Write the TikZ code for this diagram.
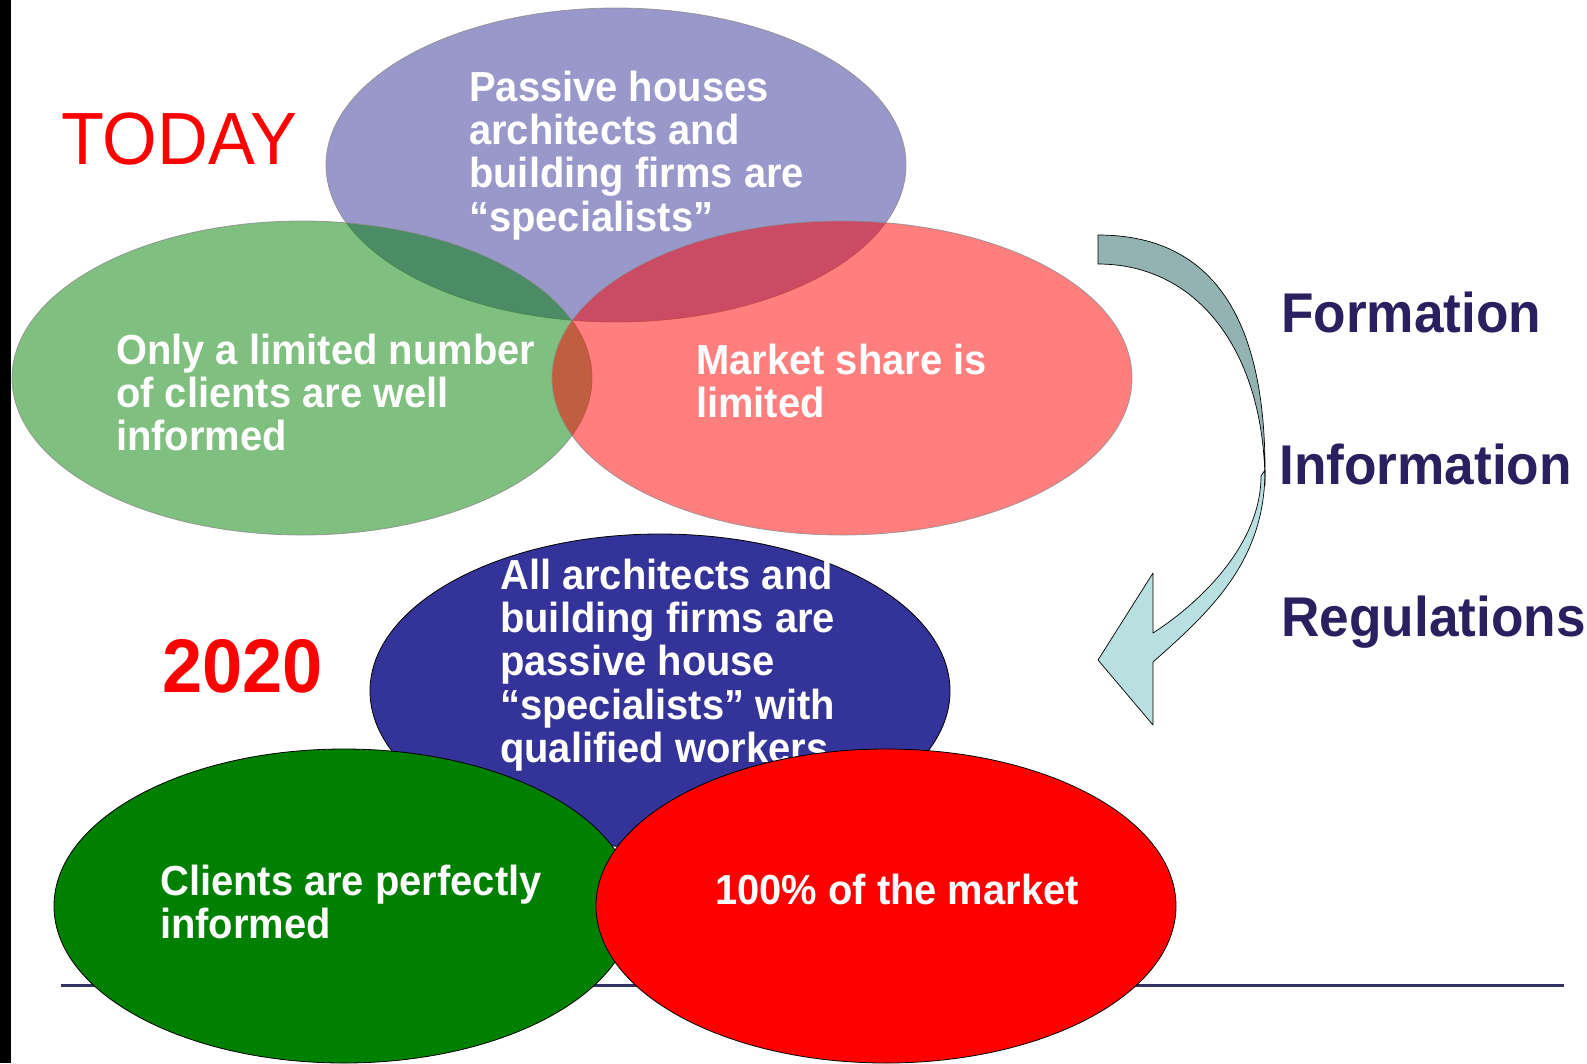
\documentclass[tikz,border=0pt]{standalone}
\usepackage{fontspec}
\setmainfont{Liberation Sans}[FakeStretch=0.95]
\usetikzlibrary{shapes.geometric}
\definecolor{navytxt}{RGB}{42,32,96}
\definecolor{ruleblue}{RGB}{51,51,102}
\definecolor{purp}{RGB}{51,51,153}
\definecolor{ggreen}{RGB}{0,128,0}
\definecolor{arrowdark}{RGB}{147,179,179}
\definecolor{arrowlight}{RGB}{184,224,224}
\newcommand\txtlines[1]{\begin{tabular}[t]{@{}l@{}}#1\end{tabular}}

\begin{document}
\begin{tikzpicture}[x=1pt,y=1pt,
  blob/.style={ellipse, minimum width=580pt, minimum height=314pt, inner sep=0pt},
  tint/.style={blob, fill opacity=0.5, draw=black!45, draw opacity=0.8, line width=0.8pt},
  deep/.style={blob, draw=black, line width=0.8pt},
  lbl/.style={anchor=base west, inner sep=0pt, text=white, font=\bfseries\fontsize{42}{43}\selectfont},
  head/.style={anchor=base west, inner sep=0pt, text=red},
  side/.style={anchor=base west, inner sep=0pt, text=navytxt, font=\bfseries\fontsize{56}{60}\selectfont},
  ribbon/.style={draw=black, line width=0.7pt, line join=round}]

\useasboundingbox (0,0) rectangle (1587,-1063);
\fill[white] (0,0) rectangle (1587,-1063);
\fill[black] (0,0) rectangle (11,-1063);

% ---- today: three overlapping translucent ellipses
\node[tint, fill=purp]   (pro) at (616,-165) {};
\node[tint, fill=ggreen] (cli) at (302,-378) {};
\node[tint, fill=red]    (mkt) at (842,-378) {};

\node[lbl] (tpro) at (469,-101) {\txtlines{Passive houses\\architects and\\building firms are\\“specialists”}};
\node[lbl] (tcli) at (116,-364) {\txtlines{Only a limited number\\of clients are well\\informed}};
\node[lbl] (tmkt) at (696,-374) {\txtlines{Market share is\\limited}};

\node[head, font=\fontsize{74}{80}\selectfont] (today) at (61,-164) {TODAY};

% ---- curved ribbon arrow: front face with the head, then the back face on top
\filldraw[ribbon, fill=arrowlight]
  (1265,-470) .. controls (1265,-560) and (1212.5,-609.5) .. (1153,-662)
  -- (1153,-725) -- (1098,-660) -- (1153,-573) -- (1153,-633)
  .. controls (1204,-600) and (1261,-542) .. (1261,-476) -- cycle;
\filldraw[ribbon, fill=arrowdark]
  (1098,-235) .. controls (1209,-235) and (1265,-313) .. (1265,-470) -- (1265,-485)
  .. controls (1265,-352) and (1198,-264) .. (1098,-264) -- cycle;

\node[side] (f1) at (1281,-332) {Formation};
\node[side] (f2) at (1279,-484) {Information};
\node[side] (f3) at (1281,-636) {Regulations};

% ---- 2020: solid ellipses
\coordinate (rl) at (61,-985);
\coordinate (rr) at (1564,-985);
\draw[ruleblue, line width=3pt] (rl) -- (rr);

\node[deep, fill=purp] (allarch) at (660,-691) {};
\node[lbl] (tall) at (500,-589) {\txtlines{All architects and\\building firms are\\passive house\\“specialists” with\\qualified workers}};
\node[deep, fill=ggreen] (perf) at (344,-906) {};
\node[deep, fill=red]    (full) at (886,-906) {};
\node[lbl] (tperf) at (160,-895) {\txtlines{Clients are perfectly\\informed}};
\node[lbl] (tfull) at (715,-904) {100\% of the market};

\node[head, font=\bfseries\fontsize{76}{80}\selectfont] (y2020) at (162,-692) {2020};
\end{tikzpicture}
\end{document}
